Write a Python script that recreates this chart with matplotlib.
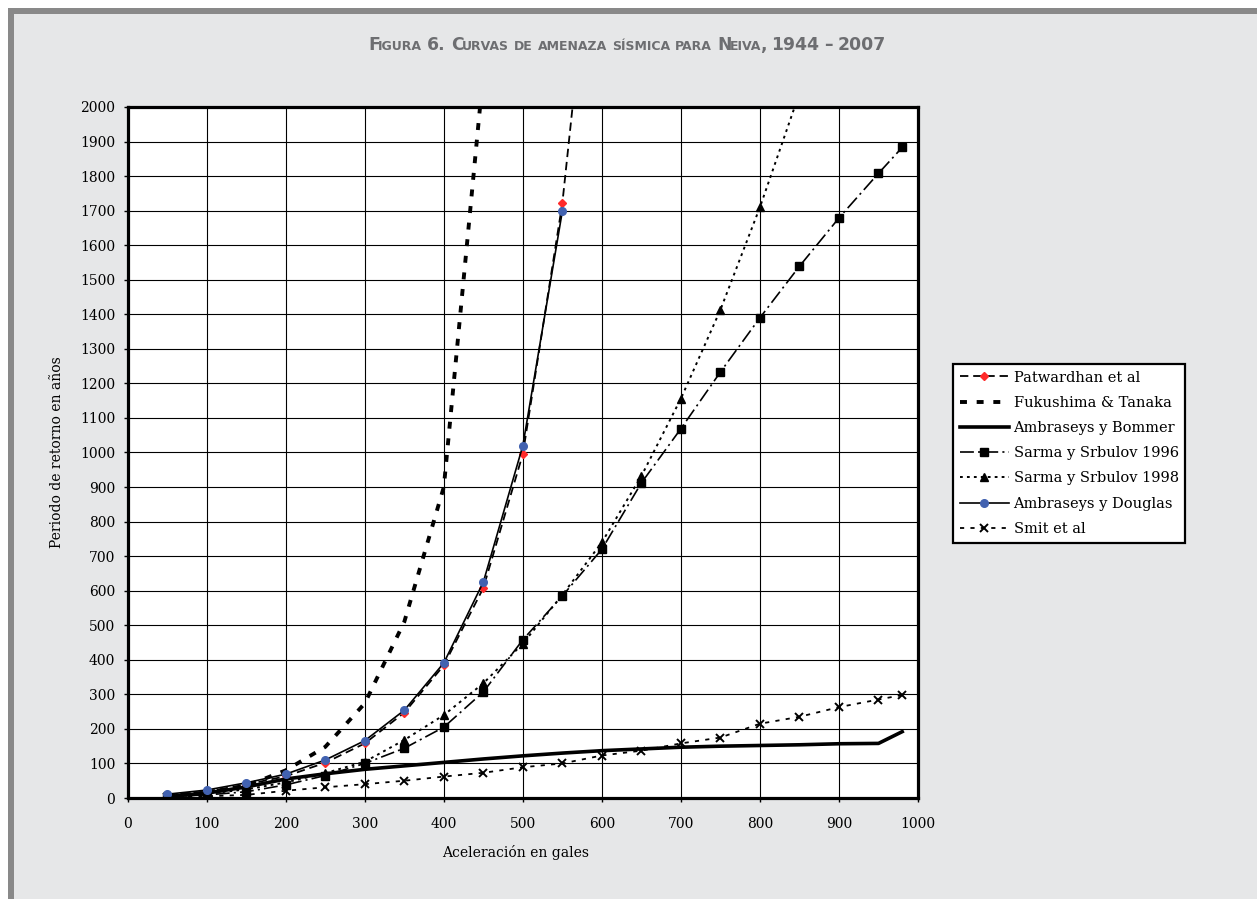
import matplotlib
matplotlib.use('Agg')
import matplotlib.pyplot as plt
from matplotlib.patches import Rectangle
from matplotlib.transforms import IdentityTransform

# --- datos (aceleracion en gales vs periodo de retorno en años) ---
x_patw = [50, 100, 150, 200, 250, 300, 350, 400, 450, 500, 550, 600]
y_patw = [9, 19, 39, 63, 102, 158, 247, 384, 608, 996, 1722, 2800]

x_fuku = [50, 100, 150, 200, 250, 300, 350, 400, 450]
y_fuku = [6, 15, 35, 80, 148, 274, 510, 900, 2100]

x_bomm = [50, 100, 150, 200, 250, 300, 350, 400, 450, 500, 550, 600, 650, 700, 750, 800, 850, 900, 950, 980]
y_bomm = [4, 14, 32, 55, 70, 83, 93, 103, 113, 122, 130, 137, 142, 147, 150, 152, 154, 157, 158, 192]

x_s96 = [50, 100, 150, 200, 250, 300, 350, 400, 450, 500, 550, 600, 650, 700, 750, 800, 850, 900, 950, 980]
y_s96 = [4, 9, 18, 38, 65, 100, 144, 205, 307, 458, 585, 720, 912, 1069, 1233, 1390, 1539, 1679, 1808, 1883]

x_s98 = [50, 100, 150, 200, 250, 300, 350, 400, 450, 500, 550, 600, 650, 700, 750, 800, 850]
y_s98 = [5, 12, 25, 45, 72, 105, 168, 240, 332, 447, 588, 740, 932, 1156, 1413, 1710, 2040]

x_doug = [50, 100, 150, 200, 250, 300, 350, 400, 450, 500, 550]
y_doug = [11, 23, 44, 69, 110, 166, 254, 391, 625, 1020, 1699]

x_smit = [50, 100, 150, 200, 250, 300, 350, 400, 450, 500, 550, 600, 650, 700, 750, 800, 850, 900, 950, 980]
y_smit = [2, 5, 9, 21, 31, 40, 50, 62, 73, 89, 100, 123, 137, 158, 175, 215, 235, 263, 285, 298]

W, H = 1257, 899
plt.rcParams['font.family'] = 'DejaVu Serif'
plt.rcParams['lines.scale_dashes'] = False

fig = plt.figure(figsize=(W / 100, H / 100), dpi=100, facecolor='white')

# fondo gris con borde oscuro arriba y a la izquierda
fig.patches.append(Rectangle((8 / W, 0), 1 - 8 / W, 1 - 8 / H, transform=fig.transFigure,
                             facecolor='#e6e7e8', edgecolor='none', zorder=-10))
fig.patches.append(Rectangle((8 / W, 1 - 14 / H), 1 - 8 / W, 6 / H, transform=fig.transFigure,
                             facecolor='#898989', edgecolor='none', zorder=-9))
fig.patches.append(Rectangle((8 / W, 0), 6 / W, 1 - 8 / H, transform=fig.transFigure,
                             facecolor='#898989', edgecolor='none', zorder=-9))

ax = fig.add_axes([127.7 / W, 1 - 798 / H, 790.3 / W, 691 / H])
ax.set_facecolor('white')

ax.plot(x_patw, y_patw, color='black', lw=1.3, dashes=(6, 3.5), marker='D', ms=4.5,
        mfc='#ff2a2a', mec='#ff2a2a', label='Patwardhan et al', zorder=3)
ax.plot(x_fuku, y_fuku, color='black', lw=2.8, dashes=(5, 7), label='Fukushima & Tanaka', zorder=3)
ax.plot(x_bomm, y_bomm, color='black', lw=2.6, label='Ambraseys y Bommer', zorder=3)
ax.plot(x_s96, y_s96, color='black', lw=1.2, dashes=(10, 3, 1.5, 3), marker='s', ms=5.5,
        label='Sarma y Srbulov 1996', zorder=3)
ax.plot(x_s98, y_s98, color='black', lw=1.4, dashes=(2, 3), marker='^', ms=6,
        label='Sarma y Srbulov 1998', zorder=3)
ax.plot(x_doug, y_doug, color='black', lw=1.2, marker='o', ms=5.5,
        mfc='#4262b0', mec='#4262b0', label='Ambraseys y Douglas', zorder=4)
ax.plot(x_smit, y_smit, color='black', lw=1.3, dashes=(3, 4.5), marker='x', ms=5.5, mew=1.4,
        label='Smit et al', zorder=3)

ax.set_xlim(0, 1000)
ax.set_ylim(0, 2000)
ax.set_xticks(range(0, 1001, 100))
ax.set_yticks(range(0, 2001, 100))
ax.grid(True, color='black', lw=0.8)
ax.set_axisbelow(True)
for s in ax.spines.values():
    s.set_linewidth(2.3)
    s.set_zorder(5)
ax.tick_params(direction='out', length=3, width=1, labelsize=10)
ax.tick_params(axis='y', pad=6)
ax.tick_params(axis='x', pad=11)

fig.text(516 / W, 1 - 853 / H, 'Aceleración en gales', ha='center', va='center', fontsize=10)
fig.text(57 / W, 1 - 452 / H, 'Periodo de retorno en años', ha='center', va='center',
         rotation=90, fontsize=10)

leg = ax.legend(loc='upper left', bbox_to_anchor=(953 / W, 1 - 364 / H),
                bbox_transform=fig.transFigure, borderaxespad=0, fancybox=False,
                framealpha=1, edgecolor='black', fontsize=10.5, handlelength=3.4,
                handletextpad=0.3, labelspacing=0.77, borderpad=0.45)
leg.get_frame().set_linewidth(1.6)

# titulo en versalitas, armado pieza por pieza
title = 'Figura 6. Curvas de amenaza sísmica para Neiva, 1944 – 2007'
big, small = 12.4, 9.0
color_t = '#6d6e71'
renderer = fig.canvas.get_renderer()
pieces = []
x = 0.0
space = 5.0
for word in title.split(' '):
    runs = []
    for ch in word:
        is_small = ch.islower()
        if runs and runs[-1][1] == is_small:
            runs[-1][0] += ch
        else:
            runs.append([ch, is_small])
    for i, (txt, is_small) in enumerate(runs):
        t = fig.text(x, H - 50, txt.upper(), transform=IdentityTransform(),
                     fontsize=small if is_small else big, fontweight='heavy',
                     family='DejaVu Sans', color=color_t, va='baseline', ha='left')
        w = t.get_window_extent(renderer).width
        pieces.append(t)
        x += w - (1.5 if i < len(runs) - 1 else 0)
    x += space
total = x - space
shift = 627 - total / 2
for t in pieces:
    px, py = t.get_position()
    t.set_position((px + shift, py))

fig.savefig('out.png', dpi=100, facecolor=fig.get_facecolor())
